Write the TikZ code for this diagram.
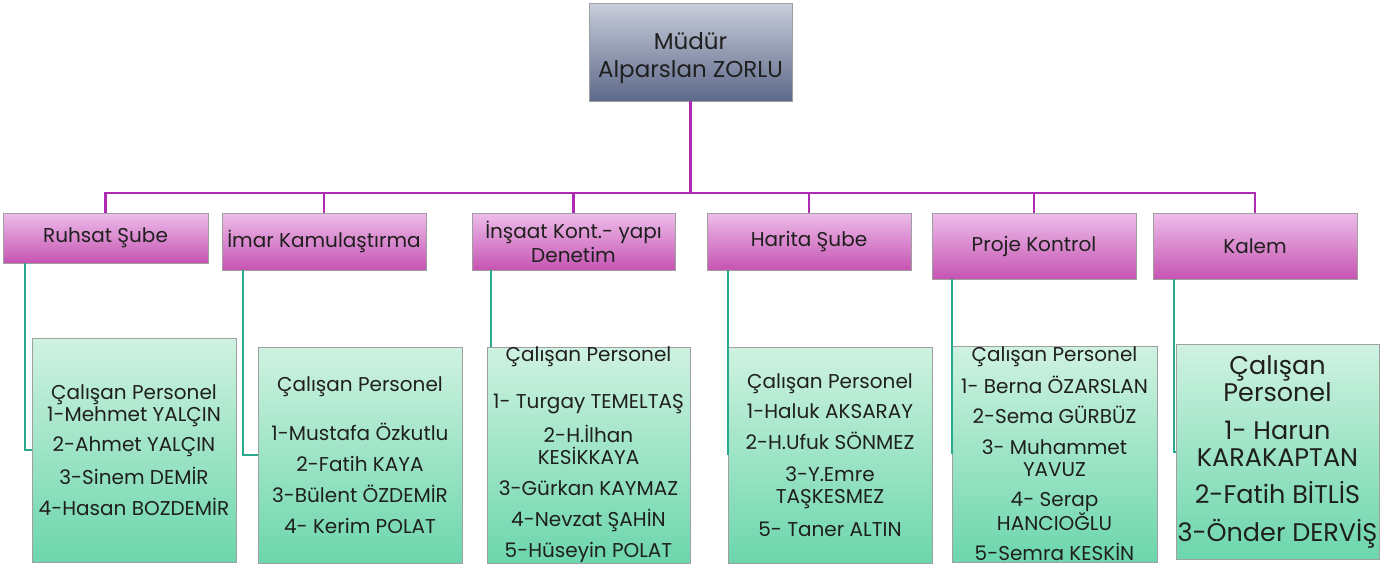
\documentclass[tikz,border=0pt]{standalone}
\usepackage{fontspec}
\setmainfont{Poppins}
\usepackage{xcolor}
\definecolor{mudurtop}{HTML}{C8CEDB}
\definecolor{mudurbot}{HTML}{5E6889}
\definecolor{subetop}{HTML}{EDBDEA}
\definecolor{subebot}{HTML}{C654B2}
\definecolor{perstop}{HTML}{CFF2E1}
\definecolor{persbot}{HTML}{6CD6AC}
\definecolor{purpleline}{HTML}{B02AB4}
\definecolor{greenline}{HTML}{2BA98C}

\begin{document}
\begin{tikzpicture}[x=1pt,y=-1pt,thick,
    box/.style={draw=gray!75,rectangle,align=center,inner sep=0pt,minimum width=204pt,text=black!88},
    mudur node/.style={box,top color=mudurtop,bottom color=mudurbot,font=\fontsize{23}{28}\selectfont},
    sube node/.style={box,top color=subetop,bottom color=subebot,font=\fontsize{20}{24}\selectfont},
    personel node/.style={box,top color=perstop,bottom color=persbot,font=\fontsize{20}{22}\selectfont},
    purple line/.style={draw=purpleline,line width=2.4pt},
    green line/.style={draw=greenline,line width=2pt}]
            \useasboundingbox (0,0) rectangle (1387,565);

            % mudur
            \node[mudur node,minimum width=203pt,minimum height=98pt,text height=56pt] (m) at (690.5,52) {Müdür\\Alparslan ZORLU};
            \coordinate (bus) at (691,193);

            % subeler
            \node[sube node,minimum width=205pt,minimum height=50pt] (d1) at (105.5,238) {Ruhsat Şube};
            \node[sube node,minimum height=57pt] (d2) at (324,241.5) {İmar Kamulaştırma};
            \node[sube node,minimum width=203pt,minimum height=57pt] (d3) at (573.5,241.5) {İnşaat Kont.- yapı\\Denetim};
            \node[sube node,minimum height=57pt] (d4) at (809,241.5) {Harita Şube};
            \node[sube node,minimum height=66pt] (d5) at (1034,246) {Proje Kontrol};
            \node[sube node,minimum height=66pt] (d6) at (1255,246) {Kalem};

            % personel
            \node[personel node,minimum height=224pt] (p1) at (134,450) {Çalışan Personel\\1-Mehmet YALÇIN\\[8pt]2-Ahmet YALÇIN\\[10pt]3-Sinem DEMİR\\[9pt]4-Hasan BOZDEMİR};
            \node[personel node,minimum height=216pt] (p2) at (360,455) {Çalışan Personel\\[25pt]1-Mustafa Özkutlu\\[9pt]2-Fatih KAYA\\[9pt]3-Bülent ÖZDEMİR\\[9pt]4- Kerim POLAT};
            \node[personel node,minimum width=203pt,minimum height=216pt] (p3) at (588.5,455) {Çalışan Personel\\[25pt]1- Turgay TEMELTAŞ\\[10pt]2-H.İlhan\\KESİKKAYA\\[9pt]3-Gürkan KAYMAZ\\[9pt]4-Nevzat ŞAHİN\\[9pt]5-Hüseyin POLAT};
            \node[personel node,minimum height=216pt] (p4) at (830,455) {Çalışan Personel\\[8pt]1-Haluk AKSARAY\\[9pt]2-H.Ufuk SÖNMEZ\\[10pt]3-Y.Emre\\TAŞKESMEZ\\[11pt]5- Taner ALTIN};
            \node[personel node,minimum width=205pt,minimum height=216pt] (p5) at (1054.5,454) {Çalışan Personel\\[8pt]1- Berna ÖZARSLAN\\[8pt]2-Sema GÜRBÜZ\\[9pt]3- Muhammet\\YAVUZ\\[8pt]4- Serap\\HANCIOĞLU\\[8pt]5-Semra KESKİN};
            \node[personel node,minimum width=203pt,minimum height=215pt,font=\fontsize{25.5}{27}\selectfont] (p6) at (1277.5,451.5) {Çalışan\\Personel\\[11pt]1- Harun\\KARAKAPTAN\\[10pt]2-Fatih BİTLİS\\[11pt]3-Önder DERVİŞ};

            % baglantilar
            \draw[purple line] (m.south) -- (m.south |- bus) -| (d1.north);
            \draw[purple line] (m.south) -- (m.south |- bus) -| (d2.north);
            \draw[purple line] (m.south) -- (m.south |- bus) -| (d3.north);
            \draw[purple line] (m.south) -- (m.south |- bus) -| (d4.north);
            \draw[purple line] (m.south) -- (m.south |- bus) -| (d5.north);
            \draw[purple line] (m.south) -- (m.south |- bus) -| (d6.north);

            \coordinate (k3) at ([xshift=19pt]d3.south west);
            \draw[green line] ([xshift=22pt]d1.south west) |- (p1.west);
            \draw[green line] ([xshift=21pt]d2.south west) |- (p2.west);
            \draw[green line] (k3) -- (k3 |- p3.north);
            \draw[green line] ([xshift=21pt]d4.south west) |- (p4.west);
            \draw[green line] ([xshift=20pt]d5.south west) |- (p5.west);
            \draw[green line] ([xshift=21pt]d6.south west) |- (p6.west);
\end{tikzpicture}
\end{document}
